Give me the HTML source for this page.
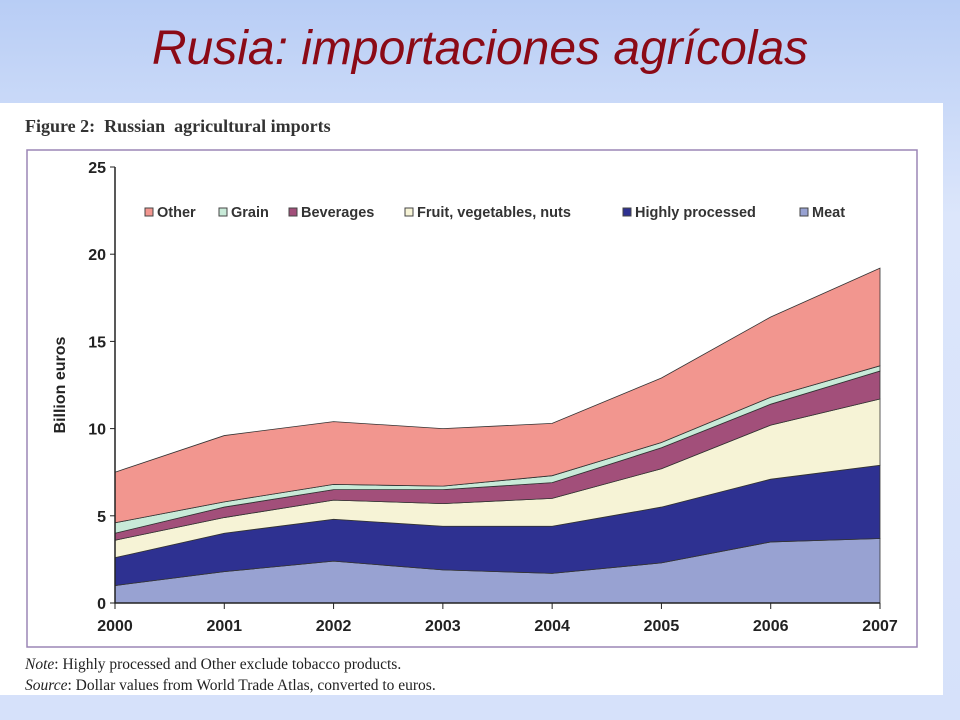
<!DOCTYPE html>
<html><head><meta charset="utf-8"><style>
body{margin:0;width:960px;height:720px;overflow:hidden;background:linear-gradient(#b8cdf5,#dce6fb 30%,#d6e1fa);font-family:"Liberation Sans",sans-serif;position:relative}
.title{position:absolute;left:0;width:960px;top:21px;text-align:center;color:#8b0a16;font-style:italic;font-size:48px;font-family:"Liberation Sans",sans-serif}
.panel{position:absolute;left:0;top:103px;width:943px;height:592px;background:#fff}
.cap{position:absolute;left:25px;top:116px;font-family:"Liberation Serif",serif;font-weight:bold;font-size:18px;color:#333}
.note{position:absolute;left:25px;font-family:"Liberation Serif",serif;font-size:15.5px;color:#222}
</style></head><body>
<div class="title">Rusia: importaciones agrícolas</div>
<div class="panel"></div>
<div class="cap">Figure 2:&nbsp; Russian&nbsp; agricultural imports</div>
<svg id="chart" width="960" height="720" style="position:absolute;left:0;top:0"></svg>
<div class="note" style="top:656px"><i>Note</i>: Highly processed and Other exclude tobacco products.</div>
<div class="note" style="top:677px"><i>Source</i>: Dollar values from World Trade Atlas, converted to euros.</div>
<script>
const years=[2000,2001,2002,2003,2004,2005,2006,2007];
const meat=[1.0,1.8,2.4,1.9,1.7,2.3,3.5,3.7];
const highlyProcessed=[1.6,2.2,2.4,2.5,2.7,3.2,3.6,4.2];
const fruitVeg=[1.0,0.9,1.1,1.3,1.6,2.2,3.1,3.8];
const beverages=[0.4,0.6,0.6,0.8,0.9,1.2,1.2,1.6];
const grain=[0.6,0.3,0.3,0.2,0.4,0.3,0.4,0.3];
const other=[2.9,3.8,3.6,3.3,3.0,3.7,4.6,5.6];
const yTicks=[0,5,10,15,20,25];
const seriesNames=["Meat","Highly processed","Fruit, vegetables, nuts","Beverages","Grain","Other"];
const seriesData=[meat,highlyProcessed,fruitVeg,beverages,grain,other];
const colors=["#98a2d2","#2e3191","#f6f3d6","#a24f7a","#c8ead8","#f2968f"];
const svg=document.getElementById('chart');const NS='http://www.w3.org/2000/svg';
const X0=115,X1=880,Y0=603,Y1=167;
const x=i=>X0+(X1-X0)*i/(years.length-1);
function yy(v){return Y0-(Y0-Y1)*v/25;}
function mk(t,a){const e=document.createElementNS(NS,t);for(const k in a)e.setAttribute(k,a[k]);svg.appendChild(e);return e;}
const frame=mk('rect',{x:27,y:150,width:890,height:497,fill:'none',stroke:'#9b85b5','stroke-width':1.5});


let base=years.map(()=>0);
seriesData.forEach((s,k)=>{
  const top=base.map((b,i)=>b+s[i]);
  let d='M'+years.map((_,i)=>x(i)+','+yy(top[i])).join(' L');
  for(let i=years.length-1;i>=0;i--)d+=' L'+x(i)+','+yy(base[i]);
  const p=mk('path',{d:d+'Z',fill:colors[k],stroke:'#333','stroke-width':0.8});
  
  
  base=top;
});
const ax=mk('path',{d:`M${X0},${Y1} L${X0},${Y0} L${X1},${Y0}`,fill:'none',stroke:'#222','stroke-width':1.5});


yTicks.forEach(t=>{
  mk('line',{x1:X0-5,x2:X0,y1:yy(t),y2:yy(t),stroke:'#222'});
  const tx=mk('text',{x:X0-9,y:yy(t)+6,'text-anchor':'end','font-size':16,'font-weight':'bold',fill:'#222'});
  tx.textContent=t;
  
  
});
years.forEach((yr,i)=>{
  mk('line',{x1:x(i),x2:x(i),y1:Y0,y2:Y0+6,stroke:'#222'});
  const tx=mk('text',{x:x(i),y:Y0+28,'text-anchor':'middle','font-size':16,'font-weight':'bold',fill:'#222'});
  tx.textContent=yr;
  
  
});
const yt=mk('text',{x:65,y:385,transform:'rotate(-90 65 385)','text-anchor':'middle','font-size':16,'font-weight':'bold',fill:'#222'});
yt.textContent='Billion euros';


const legX=[145,219,289,405,623,800];
const legOrder=[5,4,3,2,1,0];
legOrder.forEach((k,j)=>{
  const r=mk('rect',{x:legX[j],y:208,width:8,height:8,fill:colors[k],stroke:'#444','stroke-width':1});
  
  
  const t=mk('text',{x:legX[j]+12,y:217,'font-size':14.5,'font-weight':'bold',fill:'#333'});
  t.textContent=seriesNames[k];
  
  
});
</script>
</body></html>
